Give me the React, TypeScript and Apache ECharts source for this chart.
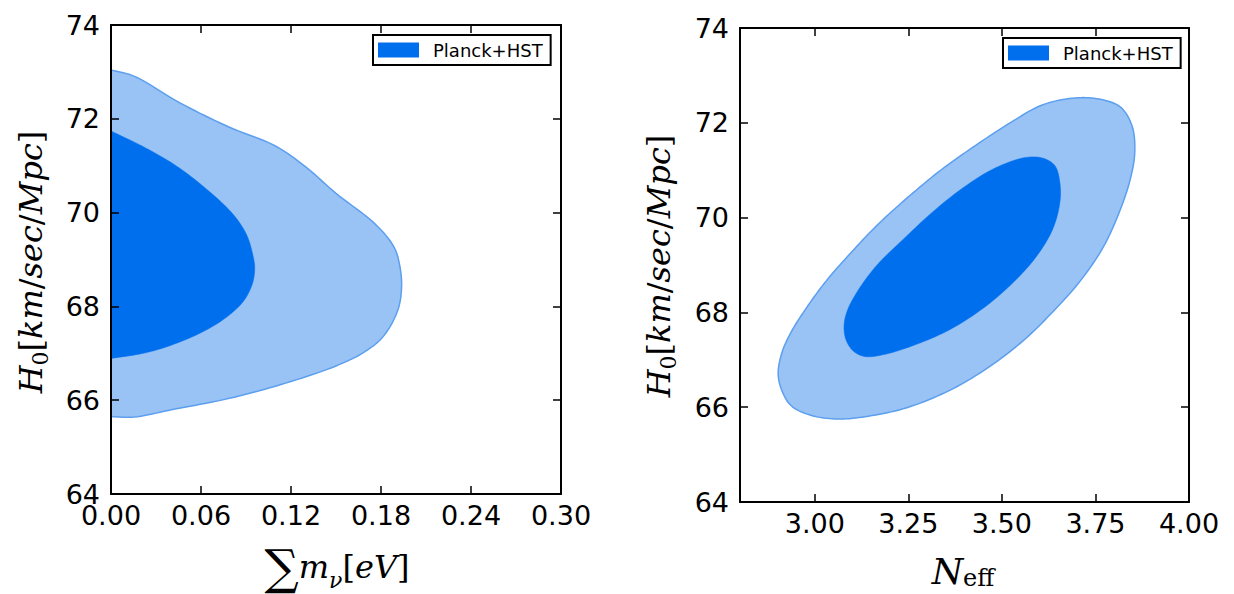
import React, { useEffect, useRef } from "react";
import * as echarts from "echarts";

// ---- Data ----
// Left panel: sum m_nu [eV] vs H0 (contours are cut at m_nu = 0, open curves)
const mnuOuter: number[][] = [
  [0, 73.04], [0.0153, 72.91], [0.0459, 72.34], [0.079, 71.82], [0.1096, 71.42],
  [0.13, 70.97], [0.15, 70.41], [0.176, 69.76], [0.1886, 69.27], [0.1925, 68.87],
  [0.1937, 68.39], [0.191, 67.9], [0.181, 67.34], [0.168, 67.01], [0.15, 66.73],
  [0.117, 66.37], [0.079, 66.04], [0.041, 65.8], [0.0153, 65.64], [0, 65.65],
];
const mnuInner: number[][] = [
  [0, 71.74], [0.023, 71.38], [0.0433, 71.0], [0.0637, 70.5], [0.0815, 69.96],
  [0.0905, 69.52], [0.095, 69.03], [0.0958, 68.82], [0.0945, 68.51], [0.089, 68.14],
  [0.079, 67.82], [0.0637, 67.5], [0.0433, 67.21], [0.023, 67.01], [0, 66.89],
];
// Right panel: N_eff vs H0 (closed curves)
const neffOuter: number[][] = [
  [2.902, 66.71], [2.912, 67.15], [2.937, 67.59], [2.978, 68.1], [3.03, 68.66],
  [3.092, 69.22], [3.164, 69.82], [3.246, 70.41], [3.338, 71.01], [3.431, 71.53],
  [3.524, 72.01], [3.606, 72.37], [3.688, 72.52], [3.76, 72.5], [3.817, 72.33],
  [3.848, 71.93], [3.855, 71.37], [3.843, 70.81], [3.817, 70.18], [3.771, 69.38],
  [3.709, 68.66], [3.637, 68.02], [3.555, 67.39], [3.462, 66.83], [3.359, 66.35],
  [3.246, 65.99], [3.143, 65.81], [3.061, 65.75], [2.989, 65.83], [2.937, 66.03],
  [2.912, 66.35],
];
const neffInner: number[][] = [
  [3.078, 67.71], [3.086, 68.02], [3.112, 68.42], [3.164, 68.98], [3.236, 69.54],
  [3.318, 70.14], [3.4, 70.65], [3.483, 71.05], [3.565, 71.27], [3.611, 71.25],
  [3.642, 71.09], [3.655, 70.73], [3.655, 70.33], [3.637, 69.78], [3.596, 69.22],
  [3.534, 68.66], [3.452, 68.1], [3.359, 67.63], [3.266, 67.31], [3.184, 67.11],
  [3.133, 67.07], [3.102, 67.19], [3.083, 67.43],
];
const mnuTicks = [0, 0.06, 0.12, 0.18, 0.24, 0.3];
const neffTicks = [3.0, 3.25, 3.5, 3.75, 4.0];
const legendName = "Planck+HST";

const DARK = "#006FED";
const LIGHT = "#99C2F5";
const EDGE = "#5C9FEE";

// Centripetal Catmull-Rom through pixel points (rendering only)
function smoothPath(px: number[][], closed: boolean, steps = 10): number[][] {
  const n = px.length;
  const out: number[][] = [];
  const get = (i: number) => {
    if (closed) return px[((i % n) + n) % n];
    if (i < 0) return [2 * px[0][0] - px[1][0], 2 * px[0][1] - px[1][1]];
    if (i >= n) return [2 * px[n - 1][0] - px[n - 2][0], 2 * px[n - 1][1] - px[n - 2][1]];
    return px[i];
  };
  const segs = closed ? n : n - 1;
  const tj = (ti: number, a: number[], b: number[]) => {
    const d = Math.hypot(b[0] - a[0], b[1] - a[1]);
    return ti + Math.max(Math.sqrt(d), 1e-4);
  };
  for (let i = 0; i < segs; i++) {
    const p0 = get(i - 1), p1 = get(i), p2 = get(i + 1), p3 = get(i + 2);
    const t0 = 0, t1 = tj(t0, p0, p1), t2 = tj(t1, p1, p2), t3 = tj(t2, p2, p3);
    for (let s = 0; s < steps; s++) {
      const t = t1 + ((t2 - t1) * s) / steps;
      const pt: number[] = [0, 0];
      for (let k = 0; k < 2; k++) {
        const A1 = ((t1 - t) / (t1 - t0)) * p0[k] + ((t - t0) / (t1 - t0)) * p1[k];
        const A2 = ((t2 - t) / (t2 - t1)) * p1[k] + ((t - t1) / (t2 - t1)) * p2[k];
        const A3 = ((t3 - t) / (t3 - t2)) * p2[k] + ((t - t2) / (t3 - t2)) * p3[k];
        const B1 = ((t2 - t) / (t2 - t0)) * A1 + ((t - t0) / (t2 - t0)) * A2;
        const B2 = ((t3 - t) / (t3 - t1)) * A2 + ((t - t1) / (t3 - t1)) * A3;
        pt[k] = ((t2 - t) / (t2 - t1)) * B1 + ((t - t1) / (t2 - t1)) * B2;
      }
      out.push(pt);
    }
  }
  if (!closed) out.push(px[n - 1]);
  return out;
}

function contourSeries(name: string, pts: number[][], gi: number, fill: string, stroke: string | null, z: number, closed: boolean) {
  return {
    type: "custom",
    name,
    xAxisIndex: gi * 2,
    yAxisIndex: gi * 2,
    clip: true,
    z,
    itemStyle: { color: fill },
    data: pts,
    renderItem: (params: any, api: any) => {
      if (params.dataIndex !== 0) return null;
      const px = pts.map((p) => api.coord(p));
      const points = smoothPath(px, closed);
      return {
        type: "polygon",
        shape: { points },
        style: {
          fill,
          stroke: stroke || fill,
          lineWidth: stroke ? 1.5 : 0.5,
        },
      };
    },
  };
}

const tickFont = { fontFamily: "DejaVu Sans", fontSize: 27, color: "#000" };

function axisPair(gi: number, min: number, max: number, ticks: number[] | null, interval: number | null, isX: boolean) {
  const base: any = {
    type: "value",
    gridIndex: gi,
    min,
    max,
    splitLine: { show: false },
    axisLine: { show: true, onZero: false, lineStyle: { color: "#000", width: 2 } },
    z: 10,
  };
  if (interval !== null) base.interval = interval;
  const tick: any = { show: true, inside: true, length: 8, lineStyle: { color: "#000", width: 1.5 } };
  const label: any = {
    show: true,
    ...tickFont,
    margin: isX ? 8 : 11,
    formatter: (v: number) => (isX ? v.toFixed(2) : String(Math.round(v))),
  };
  if (ticks) {
    tick.customValues = ticks;
    label.customValues = ticks;
  }
  const a = { ...base, position: isX ? "bottom" : "left", axisTick: tick, axisLabel: label };
  const b = { ...base, position: isX ? "top" : "right", axisTick: { ...tick }, axisLabel: { show: false } };
  return [a, b];
}

function legendAt(left: number, top: number) {
  return {
    data: [legendName],
    left,
    top,
    orient: "vertical",
    icon: "rect",
    itemWidth: 41,
    itemHeight: 15,
    padding: [6, 8, 6, 5],
    borderColor: "#000",
    borderWidth: 2,
    backgroundColor: "#fff",
    borderRadius: 0,
    selectedMode: false,
    textStyle: { fontFamily: "DejaVu Sans", fontSize: 18, color: "#000", padding: [0, 0, 0, 9] },
  };
}

export default function App() {
  const ref = useRef<HTMLDivElement>(null);
  useEffect(() => {
    if (!ref.current) return;
    const chart = echarts.init(ref.current, undefined, { renderer: "svg" });
    const serif = "DejaVu Serif";
    const yTitleRich = {
      i: { fontFamily: serif, fontStyle: "italic", fontSize: 32, lineHeight: 40, color: "#000" },
      n: { fontFamily: serif, fontSize: 32, lineHeight: 40, color: "#000" },
      s: { fontFamily: serif, fontSize: 22, lineHeight: 22, verticalAlign: "bottom", color: "#000" },
    };
    const yTitle = "{i|H}{s|0}{n|[}{i|km}{n|/}{i|sec}{n|/}{i|Mpc}{n|]}";
    const option: any = {
      animation: false,
      backgroundColor: "#fff",
      grid: [
        { left: 111, top: 25, width: 450, height: 469, containLabel: false },
        { left: 740, top: 28, width: 449, height: 474, containLabel: false },
      ],
      xAxis: [
        ...axisPair(0, 0, 0.3, mnuTicks, null, true),
        ...axisPair(1, 2.8, 4.0, neffTicks, null, true),
      ],
      yAxis: [
        ...axisPair(0, 64, 74, null, 2, false),
        ...axisPair(1, 64, 74, null, 2, false),
      ],
      legend: [legendAt(373, 35), legendAt(1003, 38)],
      series: [
        contourSeries("95% left", mnuOuter, 0, LIGHT, EDGE, 2, false),
        contourSeries(legendName, mnuInner, 0, DARK, null, 3, false),
        contourSeries("95% right", neffOuter, 1, LIGHT, EDGE, 2, true),
        contourSeries(legendName, neffInner, 1, DARK, null, 3, true),
      ],
      graphic: [
        {
          type: "text",
          x: 31,
          y: 262,
          rotation: Math.PI / 2,
          style: { text: yTitle, rich: yTitleRich, align: "center", verticalAlign: "middle" },
        },
        {
          type: "text",
          x: 659,
          y: 266,
          rotation: Math.PI / 2,
          style: { text: yTitle, rich: yTitleRich, align: "center", verticalAlign: "middle" },
        },
        {
          type: "text",
          x: 337,
          y: 567,
          style: {
            text: "{b|∑}{i|m}{s|ν}{n|[}{i|eV}{n|]}",
            align: "center",
            verticalAlign: "middle",
            rich: {
              b: { fontFamily: serif, fontSize: 48, lineHeight: 48, color: "#000" },
              i: { fontFamily: serif, fontStyle: "italic", fontSize: 32, lineHeight: 40, color: "#000" },
              n: { fontFamily: serif, fontSize: 32, lineHeight: 40, color: "#000" },
              s: { fontFamily: serif, fontStyle: "italic", fontSize: 22, lineHeight: 22, verticalAlign: "bottom", color: "#000" },
            },
          },
        },
        {
          type: "text",
          x: 963,
          y: 571,
          style: {
            text: "{i|N}{s|eff}",
            align: "center",
            verticalAlign: "middle",
            rich: {
              i: { fontFamily: serif, fontStyle: "italic", fontSize: 36, lineHeight: 38, color: "#000" },
              s: { fontFamily: serif, fontSize: 24, lineHeight: 22, verticalAlign: "bottom", color: "#000" },
            },
          },
        },
      ],
    };
    chart.setOption(option);
    return () => chart.dispose();
  }, []);
  return (
    <div
      ref={ref}
      style={{ position: "absolute", left: 0, top: 0, width: 1234, height: 594, background: "#fff" }}
    />
  );
}
